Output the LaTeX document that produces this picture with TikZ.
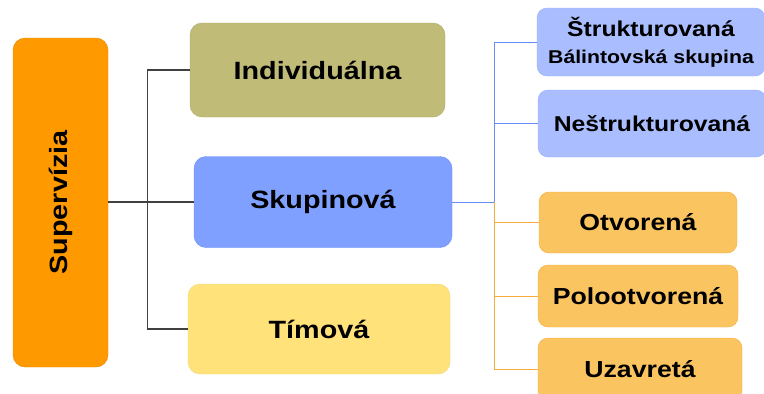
\documentclass[tikz,border=0pt]{standalone}
\usepackage{fontspec}
\setmainfont{Liberation Sans}[FakeStretch=1.15]
\usetikzlibrary{positioning}

\definecolor{supfill}{RGB}{255,153,0}
\definecolor{indfill}{RGB}{192,188,119}
\definecolor{skupfill}{RGB}{128,160,255}
\definecolor{skupline}{RGB}{100,140,250}
\definecolor{timfill}{RGB}{255,226,122}
\definecolor{lightblue}{RGB}{170,190,255}
\definecolor{lightblueline}{RGB}{150,175,250}
\definecolor{lightorange}{RGB}{250,196,96}
\definecolor{lightorangeline}{RGB}{245,172,60}

\begin{document}
\begin{tikzpicture}[
  x=1pt, y=-1pt,
  box/.style={rounded corners=12pt, text centered, font=\bfseries\fontsize{25}{28}\selectfont},
  subbox/.style={rounded corners=10pt, text centered, align=center, font=\bfseries\fontsize{23.2}{26}\selectfont},
  trunk/.style={draw=black!75, line width=1.3pt},
  bluetrunk/.style={draw=skupline, line width=1pt},
  orangetrunk/.style={draw=lightorangeline, line width=1pt}
]

\useasboundingbox (0,0) rectangle (764,394);

\node[box, fill=supfill, draw=supfill!90!black, minimum width=95pt, minimum height=329pt] (sup) at (60.5,202.5) {\rotatebox{90}{Supervízia}};

\node[box, fill=indfill, draw=indfill!90!black, minimum width=255pt, minimum height=94pt] (ind) at (317.5,70) {Individuálna};
\node[box, fill=skupfill, draw=skupline, minimum width=258pt, minimum height=91pt] (skup) at (323,202) {Skupinová};
\node[box, fill=timfill, draw=timfill!95!black, minimum width=262pt, minimum height=90pt] (tim) at (319,329) {Tímová};

\node[subbox, fill=lightblue, draw=lightblueline, minimum width=228pt, minimum height=68pt] (strk) at (651,42) {{\fontsize{21.5}{24}\selectfont Štrukturovaná}\\[1pt]{\fontsize{18.5}{22}\selectfont Bálintovská skupina}};
\node[subbox, fill=lightblue, draw=lightblueline, minimum width=228pt, minimum height=67pt] (nestr) at (652,123.5) {\fontsize{21.5}{24}\selectfont Neštrukturovaná};

\node[subbox, fill=lightorange, draw=lightorangeline, minimum width=198pt, minimum height=61pt] (otv) at (638,222.5) {Otvorená};
\node[subbox, fill=lightorange, draw=lightorangeline, minimum width=200pt, minimum height=62pt] (polo) at (638,296) {Polootvorená};
\node[subbox, fill=lightorange, draw=lightorangeline, minimum width=204pt, minimum height=62pt] (uzav) at (640,369) {Uzavretá};

\draw[trunk] (sup.east |- skup.west) -- (skup.west);
\draw[trunk] (ind.west) -- ++(-42,0) |- (tim.west);

\draw[bluetrunk] (skup.east) -- ++(42,0) coordinate (split);
\draw[bluetrunk] (split) |- (strk.west);
\draw[bluetrunk] (split |- nestr.west) -- (nestr.west);

\draw[orangetrunk] (split) |- (uzav.west);
\draw[orangetrunk] (split |- otv.west) -- (otv.west);
\draw[orangetrunk] (split |- polo.west) -- (polo.west);

\end{tikzpicture}
\end{document}
